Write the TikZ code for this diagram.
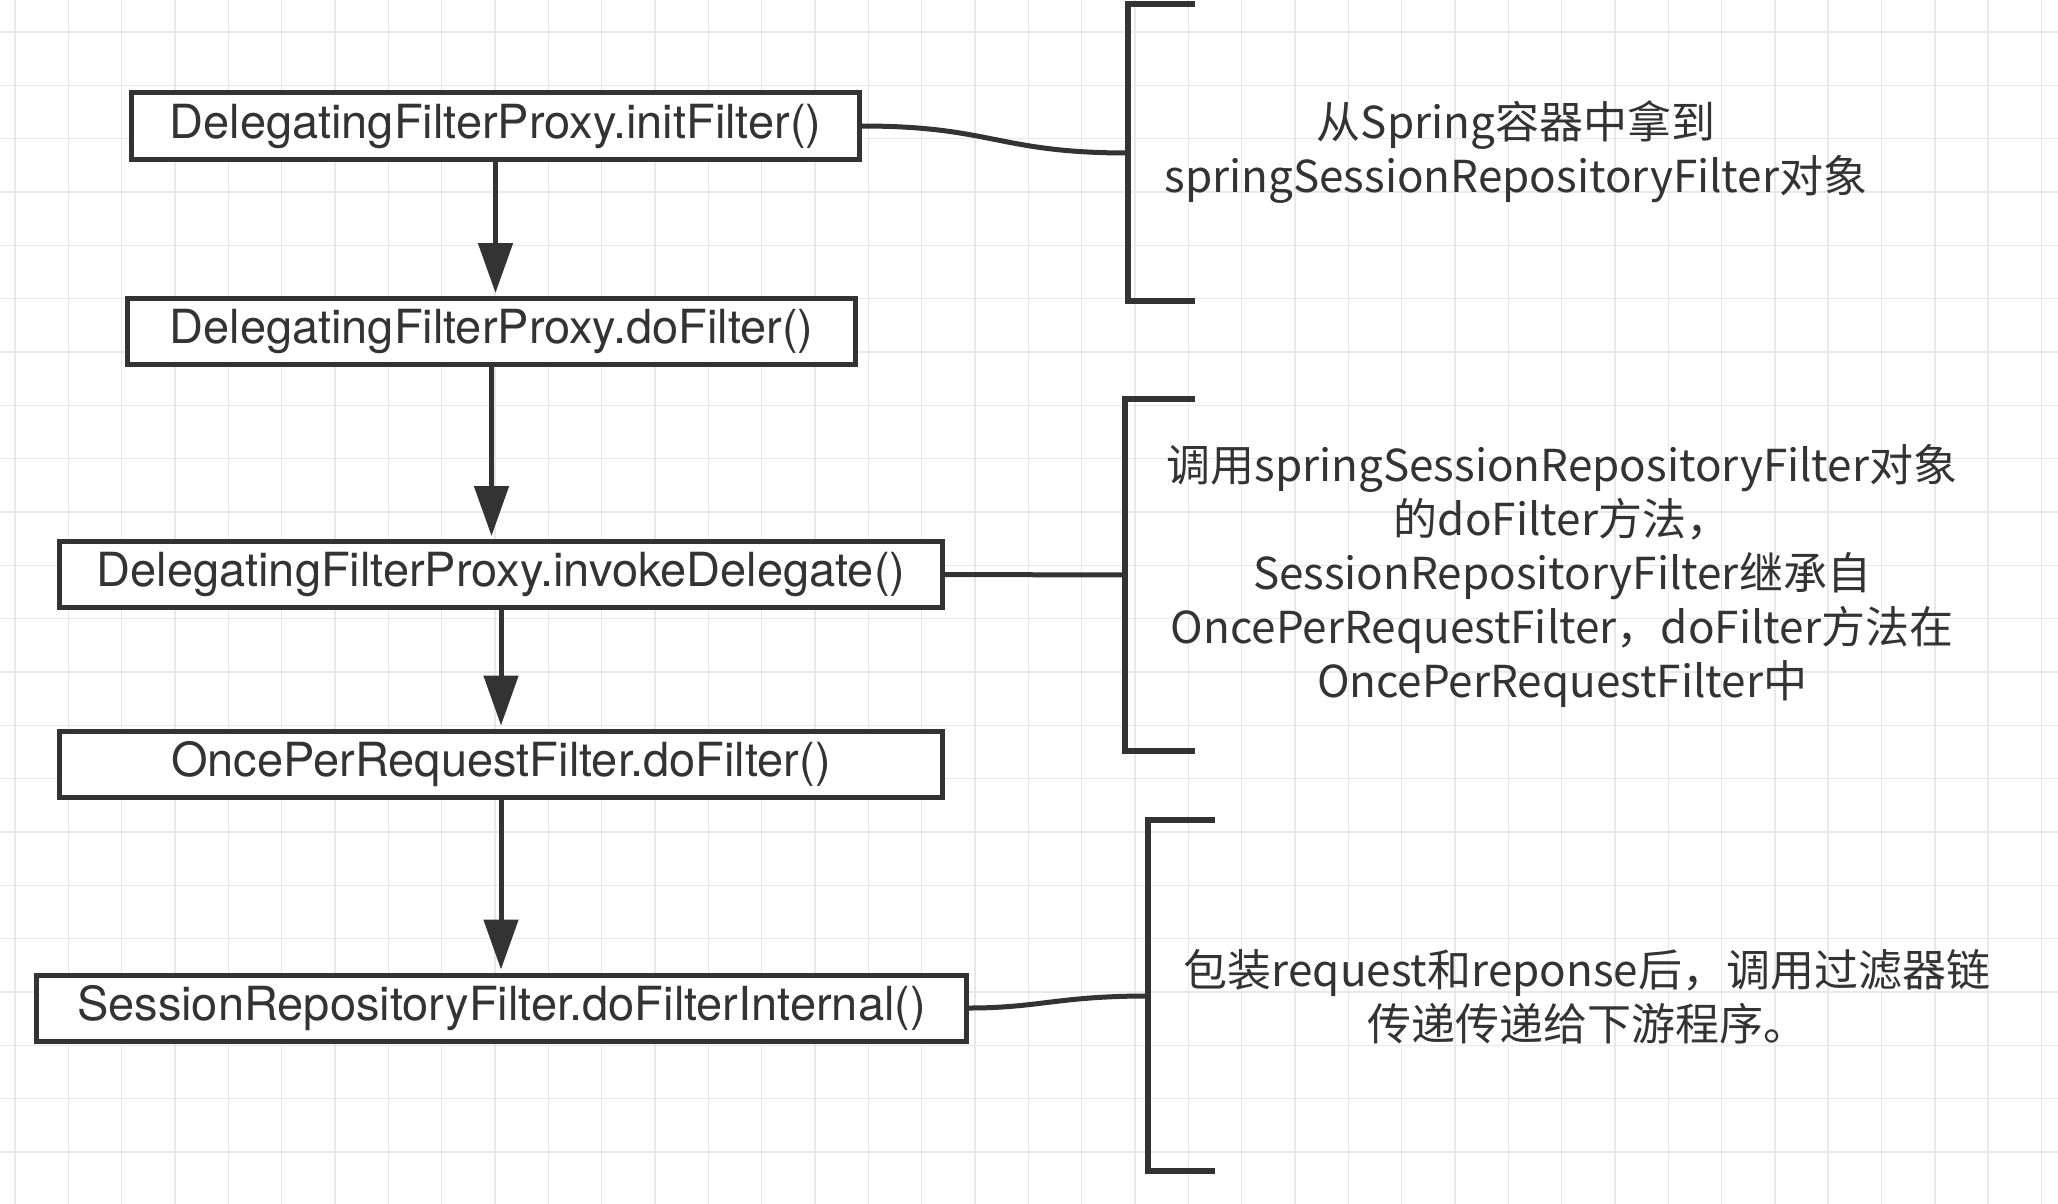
\documentclass[tikz,border=0pt]{standalone}
\usepackage{fontspec}
\setmainfont{Noto Sans CJK SC}
\newfontfamily\boxfont{TeX Gyre Heros}
\usetikzlibrary{arrows.meta}
\definecolor{inkgray}{HTML}{333333}
\definecolor{gridgray}{HTML}{E8E8E8}
\tikzset{
  stepbox/.style={draw=inkgray, line width=5pt, fill=white, inner sep=0pt,
    minimum height=66pt, text=inkgray, font=\boxfont\fontsize{47}{52}\selectfont},
  flow/.style={draw=inkgray, line width=5pt, -{Triangle[length=50pt,width=34pt]}, shorten >=3pt},
  link/.style={draw=inkgray, line width=5pt},
  bracket/.style={draw=inkgray, line width=6pt},
  note/.style={align=center, text=inkgray, inner sep=0pt, font=\fontsize{44}{54}\selectfont}
}
\begin{document}
\begin{tikzpicture}[x=1pt, y=-1pt]
\useasboundingbox (0,0) rectangle (2058,1204);
\fill[white] (0,0) rectangle (2058,1204);

% Grid paper
\foreach \gx in {0,...,38} \draw[gridgray, line width=1.5pt] (15+53.33*\gx,0) -- ++(0,1204);
\foreach \gy in {0,...,22} \draw[gridgray, line width=1.5pt] (0,32+53.33*\gy) -- ++(2058,0);

% Call chain
\node[stepbox, minimum width=728pt] (initFilter) at (495.5,126) {DelegatingFilterProxy.initFilter()};
\node[stepbox, minimum width=728pt] (doFilter) at (491.5,331.5) {DelegatingFilterProxy.doFilter()};
\node[stepbox, minimum width=883pt] (invoke) at (501,574.5) {DelegatingFilterProxy.invokeDelegate()};
\node[stepbox, minimum width=883pt] (onceFilter) at (501,764) {OncePerRequestFilter.doFilter()};
\node[stepbox, minimum width=930pt] (internal) at (501.5,1008) {SessionRepositoryFilter.doFilterInternal()};

\draw[flow] (initFilter.south) -- (initFilter.south |- doFilter.north);
\draw[flow] (doFilter.south) -- (doFilter.south |- invoke.north);
\draw[flow] (invoke.south) -- (invoke.south |- onceFilter.north);
\draw[flow] (onceFilter.south) -- (onceFilter.south |- internal.north);

% Brackets
\draw[bracket] (1195,4) -- (1128,4) -- (1128,301) -- (1195,301);
\draw[bracket] (1195,399) -- (1125,399) -- (1125,751) -- (1195,751);
\draw[bracket] (1215,820) -- (1148,820) -- (1148,1171) -- (1215,1171);
\coordinate (getBean) at (1128,153);
\coordinate (delegate) at (1125,575);
\coordinate (wrap) at (1148,996);

% Notes
\node[note] (getNote) at (1516,152) {从Spring容器中拿到\\springSessionRepositoryFilter对象};
\node[note] (delegateNote) at (1562,576) {调用springSessionRepositoryFilter对象\\的doFilter方法，\\SessionRepositoryFilter继承自\\OncePerRequestFilter，doFilter方法在\\OncePerRequestFilter中};
\node[note] (wrapNote) at (1587,997) {包装request和reponse后，调用过滤器链\\传递传递给下游程序。};

% Links to brackets
\draw[link] (initFilter.east) .. controls +(130,0) and +(-130,0) .. (getBean);
\draw[link] (invoke.east) -- (delegate);
\draw[link] (internal.east) .. controls +(70,0) and +(-90,0) .. (wrap);
\end{tikzpicture}
\end{document}
